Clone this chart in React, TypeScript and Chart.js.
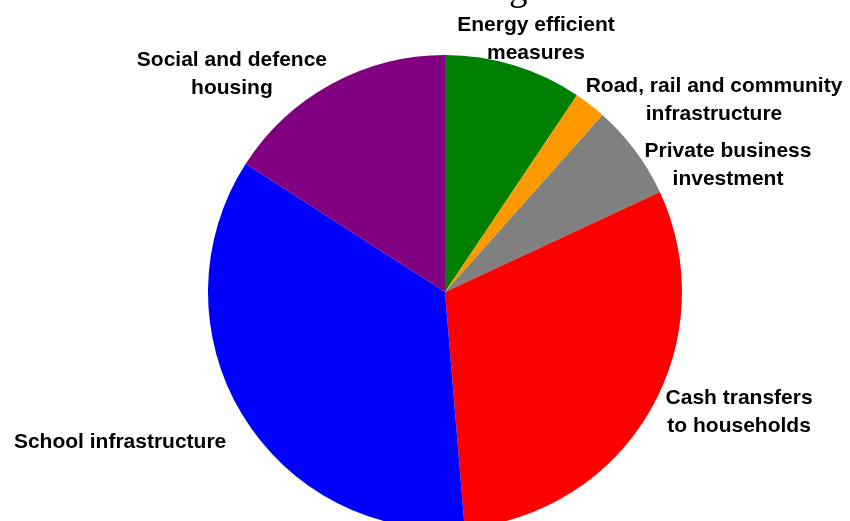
import React, { useEffect, useRef } from "react";
import { Chart, registerables } from "chart.js";

Chart.register(...registerables);

const titleText = "Chart 1: Stimulus funding and cost mix";
const categories = [
  ["Energy efficient", "measures"],
  ["Road, rail and community", "infrastructure"],
  ["Private business", "investment"],
  ["Cash transfers", "to households"],
  ["School infrastructure"],
  ["Social and defence", "housing"],
];
const values = [3.9, 0.9, 2.7, 12.7, 14.7, 6.6];
const colors = ["#008000", "#FF9900", "#808080", "#FF0000", "#0000FF", "#800080"];
// label anchor (centre x, first baseline) relative to pie centre, in radius units
const labelAnchors = [
  [0.384, -1.101],
  [1.135, -0.844],
  [1.194, -0.57],
  [1.241, 0.473],
  [-1.371, 0.658],
  [-0.899, -0.954],
];

const labelPlugin = {
  id: "outerLabels",
  afterDraw(chart: any) {
    const meta = chart.getDatasetMeta(0);
    if (!meta || !meta.data.length) return;
    const arc = meta.data[0];
    const cx = arc.x;
    const cy = arc.y;
    const r = arc.outerRadius;
    const ctx = chart.ctx;
    ctx.save();
    ctx.fillStyle = "#000000";
    ctx.textAlign = "center";
    ctx.textBaseline = "alphabetic";
    ctx.font = "bold 21px 'Liberation Sans', Arial, sans-serif";
    categories.forEach((lines, i) => {
      const [fx, fy] = labelAnchors[i];
      const x = cx + fx * r;
      const y = cy + fy * r;
      lines.forEach((ln, j) => ctx.fillText(ln, x, y + j * 28));
    });
    ctx.font = "37px 'Liberation Serif', 'Times New Roman', serif";
    ctx.fillText(titleText, cx - 11, 0);
    ctx.restore();
  },
};

export default function App() {
  const ref = useRef<HTMLCanvasElement | null>(null);
  useEffect(() => {
    if (!ref.current) return;
    const chart = new Chart(ref.current, {
      type: "pie",
      data: {
        labels: categories.map((c) => c.join(" ")),
        datasets: [
          {
            data: values,
            backgroundColor: colors,
            borderWidth: 0,
            hoverOffset: 0,
          },
        ],
      },
      options: {
        responsive: false,
        animation: false,
        layout: { padding: { top: 55, left: 40, right: 0, bottom: 0 } },
        plugins: {
          legend: { display: false },
          title: { display: false },
          tooltip: { enabled: false },
        },
      },
      plugins: [labelPlugin],
    });
    return () => chart.destroy();
  }, []);
  return (
    <div
      style={{
        position: "absolute",
        left: 0,
        top: 0,
        width: 850,
        height: 521,
        overflow: "hidden",
        background: "#fff",
      }}
    >
      <canvas ref={ref} width={850} height={529} style={{ display: "block" }} />
    </div>
  );
}
